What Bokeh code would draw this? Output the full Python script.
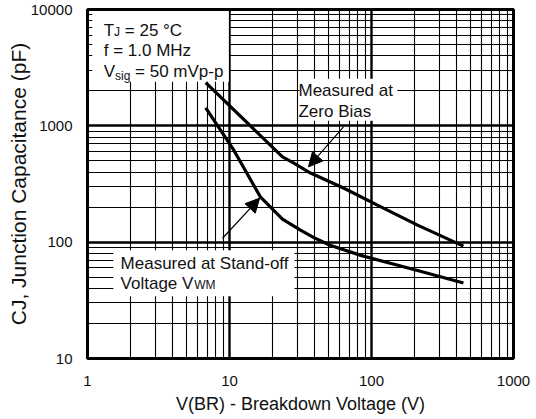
import math
from bokeh.plotting import figure
from bokeh.models import (FixedTicker, Label, BoxAnnotation, Arrow, NormalHead,
                          BasicTickFormatter)
from bokeh.embed import file_html
from bokeh.resources import INLINE

# ---------------- data ----------------
X_TICKS = [1, 10, 100, 1000]
X_TICK_LABELS = ["1", "10", "100", "1000"]
Y_TICKS = [10, 100, 1000, 10000]
Y_TICK_LABELS = ["10", "100", "1000", "10000"]

# Measured at zero bias
ZERO_BIAS_VBR = [6.8, 23.6, 28.2, 37.2, 63.5, 110, 211, 444]
ZERO_BIAS_CJ = [2350, 541, 480, 393, 292, 208, 140, 92.5]

# Measured at stand-off voltage VWM
STANDOFF_VBR = [6.8, 10.7, 16.5, 23.6, 31.6, 39, 51, 84, 211, 444]
STANDOFF_CJ = [1430, 620, 245, 158, 127, 110, 94, 77, 57, 44.5]

X_TITLE = "V(BR) - Breakdown Voltage (V)"
Y_TITLE = "CJ, Junction Capacitance (pF)"

FONT = "Liberation Sans"
INK = "#111111"

# Arial / Liberation Sans advance widths (per 1000 em)
W = {' ': 278, '(': 333, ')': 333, ',': 278, '-': 333, '.': 278, '=': 584, '°': 400,
     'B': 667, 'C': 722, 'H': 722, 'J': 500, 'M': 833, 'R': 722, 'S': 667, 'T': 611,
     'V': 667, 'W': 944, 'Z': 611, 'F': 611,
     'a': 556, 'c': 500, 'd': 556, 'e': 556, 'f': 278, 'g': 556, 'i': 222, 'k': 500,
     'l': 222, 'm': 833, 'n': 556, 'o': 556, 'p': 556, 'r': 333, 's': 500, 't': 278,
     'u': 556, 'w': 722, 'z': 500}
MID = 0.3465  # em distance from baseline to middle of the em box (Liberation Sans)


def tw(s, size):
    return sum(W.get(c, 556) for c in s) * size / 1000.0


def rich(p, x, y, pieces):
    """Pieces (text, size, extra_dy) sharing one baseline at data point (x, y)."""
    pos = 0.0
    for t, s, d in pieces:
        lead = len(t) - len(t.lstrip(" "))
        pos += tw(" " * lead, s)
        t = t.lstrip(" ")
        lab = Label(x=x, y=y, x_offset=pos, y_offset=MID * s + d, text=t)
        lab.text_font = FONT
        lab.text_font_size = f"{s}px"
        lab.text_color = INK
        lab.text_align = "left"
        lab.text_baseline = "middle"
        p.add_layout(lab)
        pos += tw(t, s)


p = figure(width=536, height=419, x_axis_type="log", y_axis_type="log",
           x_range=(1, 1000), y_range=(10, 10000),
           output_backend="svg", toolbar_location=None,
           min_border_left=87, min_border_right=23, min_border_top=9, min_border_bottom=61)

p.background_fill_color = "white"
p.border_fill_color = "white"
p.outline_line_color = "black"
p.outline_line_width = 3

x_minor = [m * 10 ** k for k in range(0, 3) for m in range(2, 10)]
y_minor = [m * 10 ** k for k in range(1, 4) for m in range(2, 10)]
p.xaxis.ticker = FixedTicker(ticks=X_TICKS, minor_ticks=x_minor)
p.yaxis.ticker = FixedTicker(ticks=Y_TICKS, minor_ticks=y_minor)
p.xaxis.formatter = BasicTickFormatter()
p.yaxis.formatter = BasicTickFormatter()
p.xaxis.major_label_overrides = dict(zip(X_TICKS, X_TICK_LABELS))
p.yaxis.major_label_overrides = dict(zip(Y_TICKS, Y_TICK_LABELS))

for ax in (p.xaxis, p.yaxis):
    ax.axis_line_color = None
    ax.major_tick_line_color = None
    ax.minor_tick_line_color = None
    ax.major_tick_in = 0
    ax.major_tick_out = 0
    ax.minor_tick_in = 0
    ax.minor_tick_out = 0
    ax.major_label_text_font = FONT
    ax.major_label_text_font_size = "15px"
    ax.major_label_text_color = INK
    ax.axis_label_text_font = FONT
    ax.axis_label_text_font_style = "normal"
    ax.axis_label_text_color = INK
p.xaxis.major_label_standoff = 17
p.yaxis.major_label_standoff = 15
p.xaxis.axis_label = X_TITLE
p.yaxis.axis_label = Y_TITLE
p.xaxis.axis_label_text_font_size = "18px"
p.yaxis.axis_label_text_font_size = "21px"
p.xaxis.axis_label_standoff = 5
p.yaxis.axis_label_standoff = -2

for g in (p.xgrid, p.ygrid):
    g.grid_line_color = "black"
    g.grid_line_width = 2.4
    g.grid_line_alpha = 1.0
    g.minor_grid_line_color = "black"
    g.minor_grid_line_width = 1.1
    g.minor_grid_line_alpha = 1.0

# white boxes behind the annotation texts
for l, r, b, t in [(1.08, 9.9, 2390, 9700), (31.1, 152, 1105, 2541), (1.52, 28.7, 34.2, 85.4)]:
    p.add_layout(BoxAnnotation(left=l, right=r, bottom=b, top=t, fill_color="white",
                               fill_alpha=1.0, line_color=None, level="underlay"))

# curves
p.line(ZERO_BIAS_VBR, ZERO_BIAS_CJ, line_color="black", line_width=3.2)
p.line(STANDOFF_VBR, STANDOFF_CJ, line_color="black", line_width=3.2)

# arrows
p.add_layout(Arrow(x_start=63.5, y_start=979, x_end=36.0, y_end=444,
                   line_color="black", line_width=1.2,
                   end=NormalHead(size=14, fill_color="black", line_color="black")))
p.add_layout(Arrow(x_start=8.93, y_start=108, x_end=16.3, y_end=239,
                   line_color="black", line_width=1.2,
                   end=NormalHead(size=14, fill_color="black", line_color="black")))

# condition and annotation texts (anchored at their baselines)
S, s = 17, 12
rich(p, 1.30, 5848, [("T", S, 0), ("J", s, 0), (" = 25 °C", S, 0)])
rich(p, 1.30, 3936, [("f = 1.0 MHz", S, 0)])
rich(p, 1.30, 2594, [("V", S, 0), ("sig", s, -2), (" = 50 mVp-p", S, 0)])

rich(p, 30.6, 1778, [("Measured at", S, 0)])
rich(p, 30.6, 1172, [("Zero Bias", S, 0)])

rich(p, 1.71, 58.5, [("Measured at Stand-off", S, 0)])
rich(p, 1.71, 39.3, [("Voltage V", S, 0), ("WM", s, 0)])

open("out.html", "w").write(file_html(p, INLINE))
